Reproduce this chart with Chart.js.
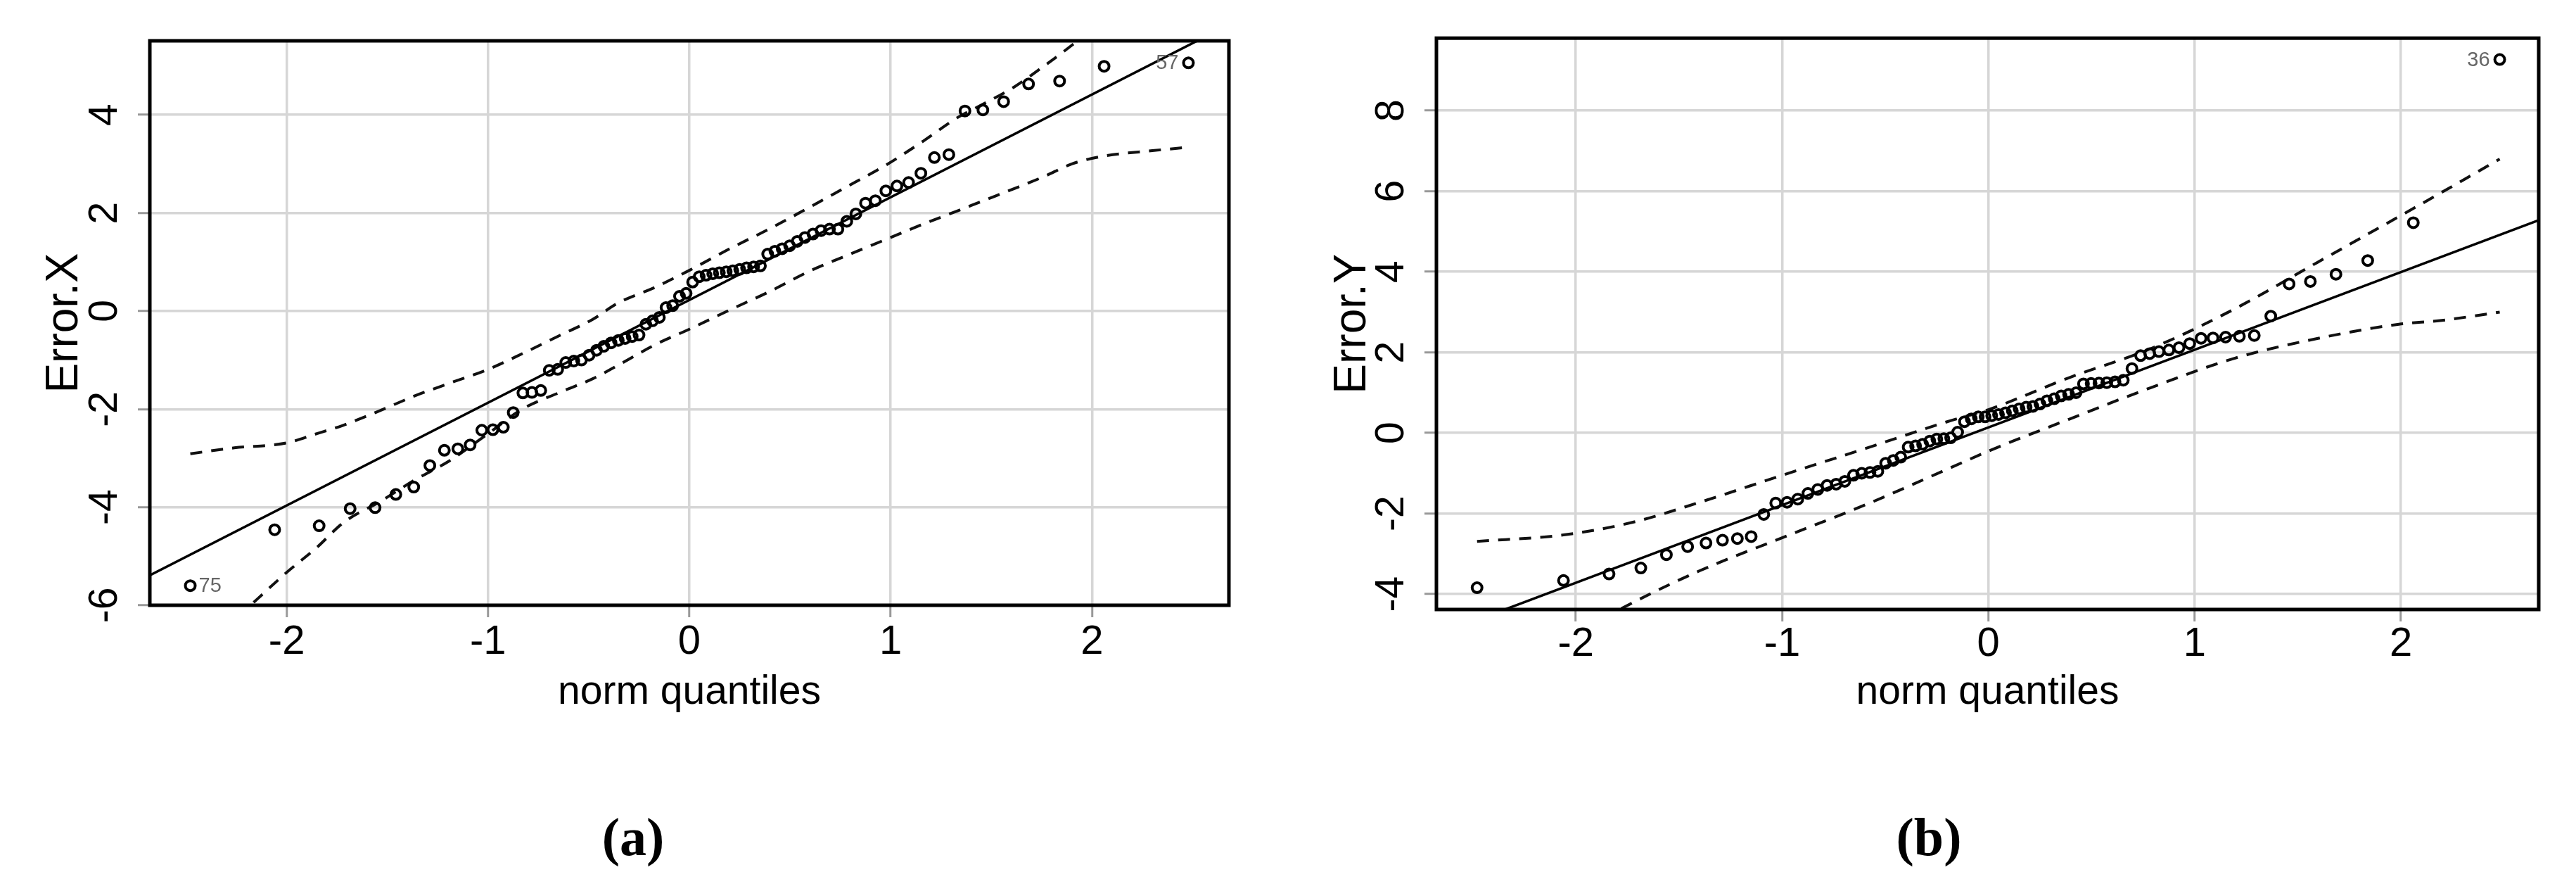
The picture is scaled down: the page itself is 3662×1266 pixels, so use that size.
<!DOCTYPE html>
<html><head><meta charset="utf-8">
<script src="https://cdn.jsdelivr.net/npm/chart.js@4.4.0/dist/chart.umd.min.js"></script>
<style>
html,body{margin:0;padding:0;background:#fff;width:3662px;height:1266px;overflow:hidden;position:relative}
canvas{position:absolute;top:0}
#ca{left:0}
#cb{left:1831px}
.lab{position:absolute;font-family:'Liberation Serif','Times New Roman',serif;font-weight:bold;font-size:76px;line-height:1;transform:translate(-50%,-50%);color:#000}
</style></head>
<body>
<canvas id="ca" width="1831" height="1060"></canvas>
<canvas id="cb" width="1831" height="1060"></canvas>
<div class="lab" style="left:900px;top:1189px">(a)</div>
<div class="lab" style="left:2742px;top:1189px">(b)</div>
<script>
// theoretical normal quantiles (x positions of the sorted points)
const normQuantiles = [-2.479,-2.060,-1.839,-1.685,-1.561,-1.458,-1.369,-1.289,-1.217,-1.150,-1.089,-1.031,-0.976,-0.924,-0.875,-0.827,-0.782,-0.738,-0.696,-0.654,-0.614,-0.574,-0.536,-0.498,-0.461,-0.425,-0.389,-0.353,-0.319,-0.284,-0.250,-0.216,-0.183,-0.149,-0.116,-0.083,-0.049,-0.016,0.016,0.049,0.083,0.116,0.149,0.183,0.216,0.250,0.284,0.319,0.353,0.389,0.425,0.461,0.498,0.536,0.574,0.614,0.654,0.696,0.738,0.782,0.827,0.875,0.924,0.976,1.031,1.089,1.150,1.217,1.289,1.369,1.458,1.561,1.685,1.839,2.060,2.479];

// (a) sorted Error.X
const errorX = [-5.60,-4.46,-4.38,-4.03,-4.01,-3.74,-3.59,-3.15,-2.84,-2.81,
 -2.73,-2.43,-2.42,-2.37,-2.07,-1.67,-1.66,-1.62,-1.21,-1.19,
 -1.05,-1.02,-1.00,-0.90,-0.80,-0.72,-0.65,-0.60,-0.56,-0.52,
 -0.49,-0.27,-0.20,-0.13,0.07,0.11,0.30,0.36,0.59,0.70,
 0.73,0.76,0.78,0.80,0.82,0.85,0.88,0.90,0.92,1.16,
 1.22,1.27,1.33,1.42,1.50,1.57,1.64,1.67,1.67,1.83,
 1.98,2.20,2.25,2.45,2.55,2.62,2.81,3.13,3.19,4.08,
 4.10,4.27,4.63,4.69,4.99,5.06];

// (b) sorted Error.Y
const errorY = [-3.84,-3.66,-3.50,-3.35,-3.02,-2.82,-2.73,-2.66,-2.62,-2.57,
 -2.02,-1.74,-1.72,-1.64,-1.50,-1.40,-1.30,-1.27,-1.20,-1.05,
 -1.00,-0.98,-0.95,-0.75,-0.68,-0.60,-0.35,-0.32,-0.28,-0.20,
 -0.15,-0.14,-0.12,0.02,0.28,0.35,0.40,0.40,0.43,0.46,
 0.50,0.55,0.60,0.64,0.66,0.72,0.80,0.85,0.92,0.96,
 1.00,1.22,1.23,1.24,1.25,1.27,1.31,1.60,1.92,1.97,
 2.02,2.06,2.12,2.22,2.35,2.36,2.38,2.40,2.42,2.90,
 3.70,3.76,3.94,4.28,5.22,9.27];

// (a) reference line and confidence envelope
const fitAx = [-2.68, 2.68];
const fitAy = [-5.39, 5.84];
const envAx = [-2.479,-2.26,-2.0,-1.85,-1.72,-1.53,-1.37,-1.19,-1.0,-0.83,-0.65,-0.48,-0.356,-0.167,0,0.21,0.40,0.59,0.78,0.97,1.16,1.33,1.46,1.61,1.76,1.90,2.06,2.30,2.479];
const envAUpper = [-2.91,-2.79,-2.69,-2.50,-2.33,-2.02,-1.74,-1.47,-1.19,-0.87,-0.51,-0.17,0.16,0.49,0.83,1.29,1.68,2.10,2.53,2.96,3.46,3.94,4.22,4.56,4.99,5.42,5.95,6.70,7.50];
const envALower = [-7.08,-6.30,-5.33,-4.82,-4.32,-3.87,-3.46,-3.05,-2.50,-2.00,-1.67,-1.38,-1.11,-0.68,-0.37,0.04,0.40,0.80,1.13,1.45,1.77,2.04,2.25,2.49,2.74,3.00,3.16,3.27,3.34];

// (b) reference line and confidence envelope
const fitBx = [-2.676, 2.668];
const fitBy = [-5.02, 5.28];
const envBx = [-2.479,-2.06,-1.72,-1.40,-1.0,-0.60,-0.20,0,0.39,0.79,1.19,1.59,1.99,2.19,2.479];
const envBUpper = [-2.69,-2.53,-2.21,-1.72,-1.05,-0.39,0.28,0.58,1.37,2.10,3.07,4.22,5.37,5.95,6.80];
const envBLower = [-6.54,-5.16,-4.20,-3.42,-2.60,-1.79,-0.90,-0.45,0.34,1.13,1.85,2.34,2.70,2.79,3.00];

// ticks
const xTicks = [-2,-1,0,1,2];
const yTicksA = [-6,-4,-2,0,2,4];
const yTicksB = [-4,-2,0,2,4,6,8];

// labelled points
const labelsA = [{index:0, text:'75', side:'right'}, {index:75, text:'57', side:'left'}];
const labelsB = [{index:75, text:'36', side:'left'}];

const pts = (xs, ys) => xs.map((x, i) => ({x, y: ys[i]}));

const framePlugin = {
  id: 'frame',
  afterDraw(chart) {
    const {ctx, chartArea: a} = chart;
    ctx.save();
    ctx.strokeStyle = '#000';
    ctx.lineWidth = 5;
    ctx.strokeRect(a.left, a.top, a.right - a.left, a.bottom - a.top);
    ctx.restore();
  }
};
const ptLabelPlugin = {
  id: 'ptlab',
  afterDatasetsDraw(chart, args, opts) {
    const meta = chart.getDatasetMeta(0);
    const ctx = chart.ctx;
    ctx.save();
    ctx.font = '29px "Liberation Sans", Arial, sans-serif';
    ctx.fillStyle = '#666';
    ctx.textBaseline = 'middle';
    (opts.items || []).forEach(l => {
      const el = meta.data[l.index];
      if (!el) return;
      if (l.side === 'right') { ctx.textAlign = 'left'; ctx.fillText(l.text, el.x + 12, el.y + 1); }
      else { ctx.textAlign = 'right'; ctx.fillText(l.text, el.x - 14, el.y + 1); }
    });
    ctx.restore();
  }
};

Chart.defaults.font.family = '"Liberation Sans", Arial, sans-serif';
Chart.defaults.color = '#000';

function makeChart(id, cfg) {
  const gridColor = '#d6d6d6';
  const ds = [
    {type:'scatter', data: pts(normQuantiles, cfg.ys), showLine:false, pointRadius:7, pointHoverRadius:7,
     pointBorderWidth:4, borderColor:'#000', pointBorderColor:'#000', pointBackgroundColor:'rgba(0,0,0,0)', clip:0},
    {type:'scatter', data: pts(cfg.fitx, cfg.fity), showLine:true, pointRadius:0, borderColor:'#000', borderWidth:3.5, clip:0},
    {type:'scatter', data: pts(cfg.envx, cfg.up), showLine:true, pointRadius:0, borderColor:'#111', borderWidth:4, borderDash:[17,13], cubicInterpolationMode:'monotone', clip:0},
    {type:'scatter', data: pts(cfg.envx, cfg.lo), showLine:true, pointRadius:0, borderColor:'#111', borderWidth:4, borderDash:[17,13], cubicInterpolationMode:'monotone', clip:0}
  ];
  return new Chart(document.getElementById(id), {
    type: 'scatter',
    data: { datasets: ds },
    plugins: [framePlugin, ptLabelPlugin],
    options: {
      responsive: false, animation: false, devicePixelRatio: 1,
      layout: { padding: { left: 0, top: cfg.top, right: cfg.right, bottom: 0 } },
      plugins: { legend: {display:false}, tooltip: {enabled:false}, ptlab: { items: cfg.labels } },
      scales: {
        x: {
          type: 'linear', position: 'bottom', min: cfg.xmin, max: cfg.xmax,
          afterBuildTicks: s => { s.ticks = xTicks.map(v => ({value: v})); },
          afterFit: s => { s.height = cfg.xh; },
          border: { display: false },
          grid: { color: gridColor, lineWidth: 3.5, drawTicks: true, tickLength: 17, tickColor: '#999', tickWidth: 3 },
          ticks: { autoSkip:false, maxRotation:0, minRotation:0, padding: cfg.xpad, color:'#000',
                   font: { size: 58 }, callback: v => String(v) },
          title: { display: true, text: 'norm quantiles', color:'#000',
                   font: { size: 57 }, padding: { top: 0, bottom: 42 } }
        },
        y: {
          type: 'linear', position: 'left', min: cfg.ymin, max: cfg.ymax,
          afterBuildTicks: s => { s.ticks = cfg.yticks.map(v => ({value: v})); },
          afterFit: s => { s.width = cfg.yw; },
          border: { display: false },
          grid: { color: gridColor, lineWidth: 3.5, drawTicks: true, tickLength: 17, tickColor: '#999', tickWidth: 3 },
          ticks: { autoSkip:false, minRotation:90, maxRotation:90, crossAlign:'center', padding: 20, color:'#000',
                   font: { size: 57 }, callback: v => String(v) },
          title: { display: true, text: cfg.ytitle, color:'#000', font: { size: 64 }, padding: { top: 54, bottom: 0 } }
        }
      }
    }
  });
}

makeChart('ca', {
  ys: errorX, fitx: fitAx, fity: fitAy, envx: envAx, up: envAUpper, lo: envALower,
  xmin: -2.68, xmax: 2.68, ymin: -6.0, ymax: 5.51, yticks: yTicksA,
  top: 58, right: 84, xh: 200, yw: 213, xpad: 1, ytitle: 'Error.X', labels: labelsA
});
makeChart('cb', {
  ys: errorY, fitx: fitBx, fity: fitBy, envx: envBx, up: envBUpper, lo: envBLower,
  xmin: -2.676, xmax: 2.668, ymin: -4.38, ymax: 9.80, yticks: yTicksB,
  top: 46, right: 53, xh: 194, yw: 211, xpad: -2, ytitle: 'Error.Y', labels: labelsB
});
</script>
</body></html>
